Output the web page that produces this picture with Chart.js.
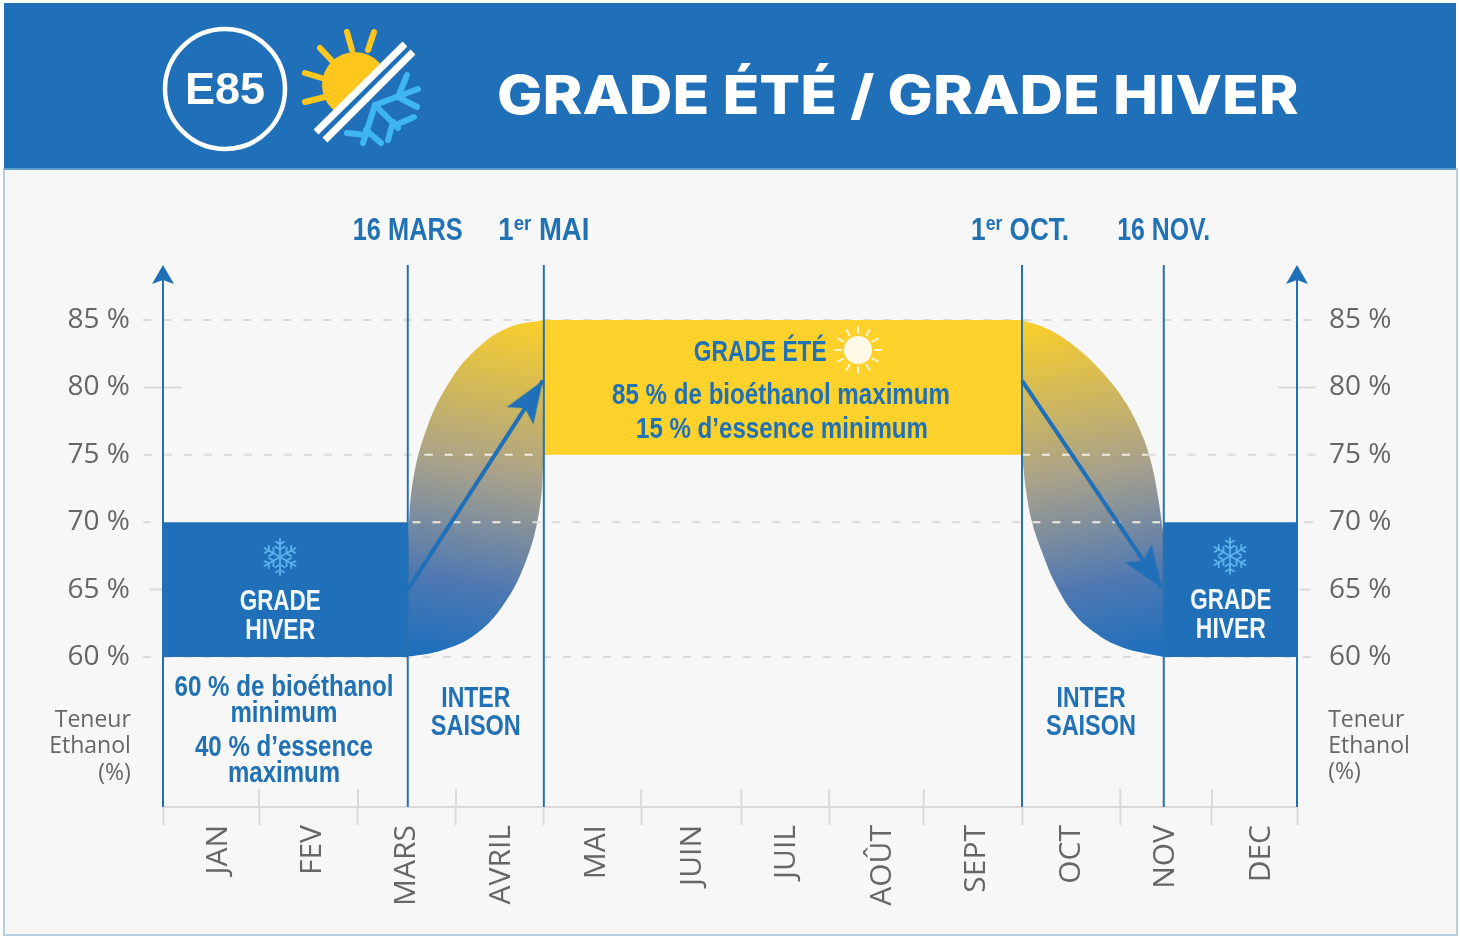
<!DOCTYPE html>
<html><head><meta charset="utf-8">
<script src="https://cdn.jsdelivr.net/npm/chart.js@4"></script>
<style>
html,body{margin:0;padding:0;background:#fff;width:1460px;height:937px;overflow:hidden}
#panel{position:absolute;left:3px;top:168px;width:1451px;height:766px;background:#F7F7F7;border:2px solid #B3CFE0;border-top:none}
#head{position:absolute;left:4px;top:3px;width:1452px;height:167px;background:#1F70B8;border-bottom:2px solid #5FA0CF;box-sizing:border-box}
#title{position:absolute;left:497px;top:62px;margin:0;color:#fff;font:800 54px Inter,sans-serif;white-space:nowrap;transform-origin:left center;transform:scaleX(1.118)}
#e85{position:absolute;left:163px;top:61px;width:124px;text-align:center;color:#fff;font:bold 45px "Liberation Sans",sans-serif;line-height:56px}
canvas{position:absolute;left:0;top:0}
svg{position:absolute;left:0;top:0}
</style></head><body>
<div id="panel"></div><div id="head"></div>
<canvas id="c" width="1460" height="937"></canvas>
<svg id="icons" width="1460" height="937" viewBox="0 0 1460 937" fill="none"></svg>
<h1 id="title">GRADE ÉTÉ / GRADE HIVER</h1>
<div id="e85">E85</div>
<script>
// ---- data ----
const monthNames   = ['JAN','FEV','MARS','AVRIL','MAI','JUIN','JUIL','AOÛT','SEPT','OCT','NOV','DEC'];
const monthCentres = [0.59,1.586,2.58,3.58,4.59,5.6,6.6,7.61,8.61,9.61,10.61,11.62];
const monthEdges   = [0,1.016,2.063,3.10,4.03,5.06,6.12,7.05,8.05,9.09,10.13,11.10,12];
const innerEdges   = [1.016,2.063,3.10,5.06,6.12,7.05,8.05,10.13,11.10];
const yTickValues  = [85,80,75,70,65,60];
const gradeDates   = [2.59,4.03,9.09,10.59];
const winterA      = [0,2.59];
const winterB      = [10.59,12];
const summer       = [4.03,9.09];
const riseUpperX = [2.593,2.641,2.785,3.014,3.312,3.659,4.03];
const riseUpperY = [68.68,72.9,76.84,80.22,82.81,84.44,85];
const riseLowerX = [2.593,2.963,3.312,3.608,3.841,3.983,4.03];
const riseLowerY = [60,60.52,61.71,63.93,67.12,70.91,75];
const fallUpperX = [9.09,9.386,9.683,9.947,10.169,10.339,10.455,10.529,10.593];
const fallUpperY = [85,84.26,82.85,81.07,79.07,76.84,74.47,71.88,68.68];
const fallLowerX = [9.09,9.132,9.196,9.302,9.439,9.619,9.852,10.148,10.593];
const fallLowerY = [75,72.39,70.01,67.79,65.49,63.41,61.85,60.73,60];
const riseArrowX = [2.59,4.02];
const riseArrowY = [65,80.5];
const fallArrowX = [9.09,10.57];
const fallArrowY = [80.5,65.1];

const Y_MIN = 48.87, Y_MAX = 89.08;
const BLUE = '#1F70B8', GREY = '#666666', GRID = '#DADADA', GRID_ON_BAND = '#EFEBE0';
const FACE = '"Liberation Sans",sans-serif';

const zip = (xs, ys) => xs.map((x, i) => ({x, y: ys[i]}));
const flat = (xs, v) => xs.map(x => ({x, y: v}));

function arrowHead(len, half, notch){
  const s = len*2+8, cv = document.createElement('canvas');
  cv.width = cv.height = s;
  const g = cv.getContext('2d');
  g.translate(s/2, s/2);
  g.fillStyle = BLUE;
  g.beginPath(); g.moveTo(0,0); g.lineTo(half,len); g.lineTo(0,len-notch); g.lineTo(-half,len); g.closePath(); g.fill();
  return cv;
}
const bigHead = arrowHead(42,16,9), smallHead = arrowHead(19,11,4);

function bandFill(x0, x1){
  return ctx => {
    const {chart} = ctx, s = chart.scales;
    if (!chart.chartArea || !s.y) return '#aaa';
    const g = chart.ctx.createLinearGradient(s.x.getPixelForValue(x0), s.y.getPixelForValue(85), s.x.getPixelForValue(x1), s.y.getPixelForValue(60));
    g.addColorStop(0,'#F8CE2C'); g.addColorStop(0.45,'#A9A28A'); g.addColorStop(0.78,'#4F78B2'); g.addColorStop(1,'#1F70BC');
    return g;
  };
}

const line = (data, extra) => Object.assign({type:'line', data, borderWidth:0, pointRadius:0, clip:false, fill:false, tension:0}, extra);
const band = (data, extra) => line(data, Object.assign({tension:0.4}, extra));
const dash = (x0,x1,v,color) => line(flat([x0,x1],v), {order:20, borderColor:color||GRID, borderWidth:2, borderDash:[8,12]});
const solid = (x0,x1,v) => line(flat([x0,x1],v), {order:20, borderColor:GRID, borderWidth:2});
const vline = (x, top, extra) => line(flat([x],Y_MIN).concat(flat([x],top)), Object.assign({order:2, borderColor:'#2A6FAE', borderWidth:2}, extra));

const datasets = [
  band(zip(riseUpperX,riseUpperY), {order:30, fill:'+1', backgroundColor:bandFill(3.75,3.05)}),
  band(zip(riseLowerX,riseLowerY), {order:30}),
  band(zip(fallUpperX,fallUpperY), {order:30, fill:'+1', backgroundColor:bandFill(9.45,10.15)}),
  band(zip(fallLowerX,fallLowerY), {order:30}),
  dash(-0.21,12.17,85), solid(-0.2,0.2,80), solid(11.8,12.2,80),
  dash(-0.2,2.77,75), dash(2.77,4.03,75,GRID_ON_BAND), dash(9.09,10.42,75,GRID_ON_BAND), dash(10.42,12.2,75),
  dash(2.64,3.91,70,GRID_ON_BAND), dash(3.91,9.2,70), dash(9.2,10.55,70,GRID_ON_BAND), solid(-0.21,-0.13,70), solid(12.07,12.17,70),
  solid(-0.14,0,65), solid(12.03,12.14,65), dash(-0.21,12.15,60),
  line(flat(winterA,70), {order:10, fill:'+1', backgroundColor:BLUE}),
  line(flat(winterA,60), {order:10}),
  line(flat(winterB,70), {order:10, fill:'+1', backgroundColor:BLUE}),
  line(flat(winterB,60), {order:10}),
  line(flat(summer,85), {order:10, fill:'+1', backgroundColor:'#FFD12B'}),
  line(flat(summer,75), {order:10}),
  line(flat(innerEdges,49.54), {order:15, showLine:false, pointStyle:'line', pointRadius:9, pointRotation:90, pointBorderColor:GRID, pointBorderWidth:2, pointHoverRadius:9}),
  vline(0, 88.6, {borderColor:BLUE}), vline(12, 88.6, {borderColor:BLUE}),
  line(flat([0,12],89.08), {order:1, showLine:false, pointStyle:smallHead, pointRadius:1, pointRotation:0}),
  ...gradeDates.map(x => vline(x, 89.08)),
  line(zip(riseArrowX,riseArrowY), {order:1, borderColor:BLUE, borderWidth:4, pointStyle:[false,bigHead], pointRadius:[0,1], pointRotation:33}),
  line(zip(fallArrowX,fallArrowY), {order:1, borderColor:BLUE, borderWidth:4, pointStyle:[false,bigHead], pointRadius:[0,1], pointRotation:146}),
];

const condensed = (size) => `bold ${size}px ${FACE}`;
const TXT = 'rgb(33,113,181)', WHT = '#F2F7FB';
const labels = [
  {runs:[['16 MARS',31]], x:2.59, y:91.68, w:110},
  {runs:[['1',31],['er',21,7],[' MAI',31]], x:4.03, y:91.68, w:91},
  {runs:[['1',31],['er',21,7],[' OCT.',31]], x:9.07, y:91.68, w:98},
  {runs:[['16 NOV.',31]], x:10.59, y:91.68, w:93},
  {runs:[['GRADE ÉTÉ',30]], x:6.32, y:82.7, w:133},
  {runs:[['85 % de bioéthanol maximum',30]], x:6.54, y:79.51, w:338},
  {runs:[['15 % d’essence minimum',30]], x:6.55, y:76.99, w:292},
  {runs:[['GRADE',30]], x:1.24, y:64.23, c:WHT, w:81},
  {runs:[['HIVER',30]], x:1.24, y:62.08, c:WHT, w:70},
  {runs:[['GRADE',30]], x:11.30, y:64.3, c:WHT, w:81},
  {runs:[['HIVER',30]], x:11.30, y:62.15, c:WHT, w:70},
  {runs:[['60 % de bioéthanol',30]], x:1.28, y:57.85, w:219},
  {runs:[['minimum',30]], x:1.28, y:55.92, w:107},
  {runs:[['40 % d’essence',30]], x:1.28, y:53.4, w:178},
  {runs:[['maximum',30]], x:1.28, y:51.47, w:112},
  {runs:[['INTER',30]], x:3.31, y:57.03, w:69},
  {runs:[['SAISON',30]], x:3.31, y:54.96, w:90},
  {runs:[['INTER',30]], x:9.82, y:57.03, w:69},
  {runs:[['SAISON',30]], x:9.82, y:54.96, w:90},
];
const sideNotes = [
  {t:'Teneur', x:-0.34, y:55.33, a:'right'}, {t:'Ethanol', x:-0.34, y:53.4, a:'right'}, {t:'(%)', x:-0.34, y:51.47, a:'right'},
  {t:'Teneur', x:12.33, y:55.4, a:'left'}, {t:'Ethanol', x:12.33, y:53.47, a:'left'}, {t:'(%)', x:12.33, y:51.54, a:'left'},
];

const textPlugin = {
  id:'texts',
  afterDatasetsDraw(chart){
    const {ctx, scales:{x, y}} = chart;
    ctx.save();
    ctx.textBaseline = 'middle';
    for (const l of labels){
      ctx.fillStyle = l.c || TXT;
      let w = 0;
      for (const [t,s] of l.runs){ ctx.font = condensed(s); w += ctx.measureText(t).width; }
      const k = l.w / w;
      ctx.save();
      ctx.translate(x.getPixelForValue(l.x) - l.w/2, y.getPixelForValue(l.y) + 1.5);
      ctx.scale(k, 1);
      ctx.textAlign = 'left';
      let px = 0;
      for (const [t,s,up] of l.runs){
        ctx.font = condensed(s);
        ctx.fillText(t, px, -(up||0));
        px += ctx.measureText(t).width;
      }
      ctx.restore();
    }
    ctx.fillStyle = GREY;
    ctx.font = '23px "Open Sans",sans-serif';
    for (const n of sideNotes){
      ctx.textAlign = n.a;
      ctx.fillText(n.t, x.getPixelForValue(n.x), y.getPixelForValue(n.y)+1);
    }
    ctx.restore();
  }
};

const yAxis = (position, pad, width) => ({
  type:'linear', position, min:Y_MIN, max:Y_MAX,
  afterBuildTicks(a){ a.ticks = yTickValues.map(value => ({value})); },
  afterFit(a){ a.width = width; a.paddingTop = 0; a.paddingBottom = 0; },
  grid:{display:false}, border:{display:false},
  ticks:{color:GREY, padding:pad, font:{family:'"Open Sans"', size:28}, callback:v => v+' %'}
});

new Chart(document.getElementById('c'), {
  type:'line',
  data:{datasets},
  options:{
    responsive:false, animation:false,
    layout:{padding:{top:265,left:0,right:0,bottom:0}},
    plugins:{legend:{display:false}, tooltip:{enabled:false}},
    events:[],
    scales:{
      x:{
        type:'linear', position:'bottom', min:0, max:12,
        afterBuildTicks(a){
          a.ticks = monthEdges.concat(monthCentres).sort((p,q)=>p-q).map(value => ({value}));
        },
        afterFit(a){ a.height = 937-807; a.paddingLeft = 0; a.paddingRight = 0; },
        border:{color:GRID, width:2},
        grid:{
          drawOnChartArea:false, drawTicks:true, tickLength:18, tickWidth:2,
          tickColor:c => monthEdges.includes(c.tick && c.tick.value) ? GRID : 'rgba(0,0,0,0)'
        },
        ticks:{
          color:GREY, padding:0, autoSkip:false, minRotation:90, maxRotation:90,
          font:{family:'"Open Sans"', size:30},
          callback:v => { const i = monthCentres.indexOf(v); return i>=0 ? monthNames[i] : ''; }
        }
      },
      y:yAxis('left',25,163),
      yr:yAxis('right',24,163)
    }
  },
  plugins:[textPlugin]
});

// ---- decorative icons ----
const NS='http://www.w3.org/2000/svg', svg=document.getElementById('icons');
function el(n,a,parent){const e=document.createElementNS(NS,n);for(const k in a)e.setAttribute(k,a[k]);(parent||svg).appendChild(e);return e;}
function flake(cx,cy,r,w,col,tw){
  for(let i=0;i<6;i++){
    const a=Math.PI/3*i+tw, ca=Math.cos(a), sa=Math.sin(a);
    el('line',{x1:cx,y1:cy,x2:cx+ca*r,y2:cy+sa*r,stroke:col,'stroke-width':w,'stroke-linecap':'round'});
    for(const f of [0.42,0.72]){
      const bx=cx+ca*r*f,by=cy+sa*r*f,bl=r*(f<0.5?0.3:0.26);
      for(const s of [-1,1]){
        const b=a+s*Math.PI/3;
        el('line',{x1:bx,y1:by,x2:bx+Math.cos(b)*bl,y2:by+Math.sin(b)*bl,stroke:col,'stroke-width':w,'stroke-linecap':'round'});
      }
    }
  }
}
el('circle',{cx:225,cy:89,r:60,stroke:'#fff','stroke-width':4.5});
// sun, cut along the diagonal
const defs=el('defs',{});
const clip=el('clipPath',{id:'sunSide'},defs);
el('path',{d:'M405,44 L316,132 L280,132 L280,0 L405,0 Z'},clip);
for(const r of [[347,32,352,50],[374,32,368,50],[320,48,333,62],[305,73,325,79],[305,102,325,97]])
  el('line',{x1:r[0],y1:r[1],x2:r[2],y2:r[3],stroke:'#FFC61E','stroke-width':6,'stroke-linecap':'round'});
el('circle',{cx:355,cy:85,r:33,fill:'#FFC61E','clip-path':'url(#sunSide)'});
// winter flake
for(const p of ['M375,105 L418,89','M398,97 L407,75','M398,97 L417,107','M375,105 L398,128','M398,124 L414,117','M393,122 L388,140','M375,105 L363,143','M347,133 L366,135','M366,130 L381,143'])
  el('path',{d:p,stroke:'#3FB6F2','stroke-width':6,'stroke-linecap':'round'});
el('path',{d:'M405,44 L316,132 M413,52 L325,140',stroke:'#fff','stroke-width':7});
flake(280,557,18,1.8,'#5CB2EC',Math.PI/2);
flake(1230,556,18,1.8,'#5CB2EC',Math.PI/2);
// small white sun
el('circle',{cx:858,cy:350,r:14,fill:'#FFF9E8'});
for(let i=0;i<12;i++){
  const a=i*Math.PI/6, c=Math.cos(a), s=Math.sin(a);
  el('line',{x1:858+c*17,y1:350+s*17,x2:858+c*23,y2:350+s*23,stroke:'#FFF6D8','stroke-width':2,'stroke-linecap':'round'});
}
</script>
</body></html>
